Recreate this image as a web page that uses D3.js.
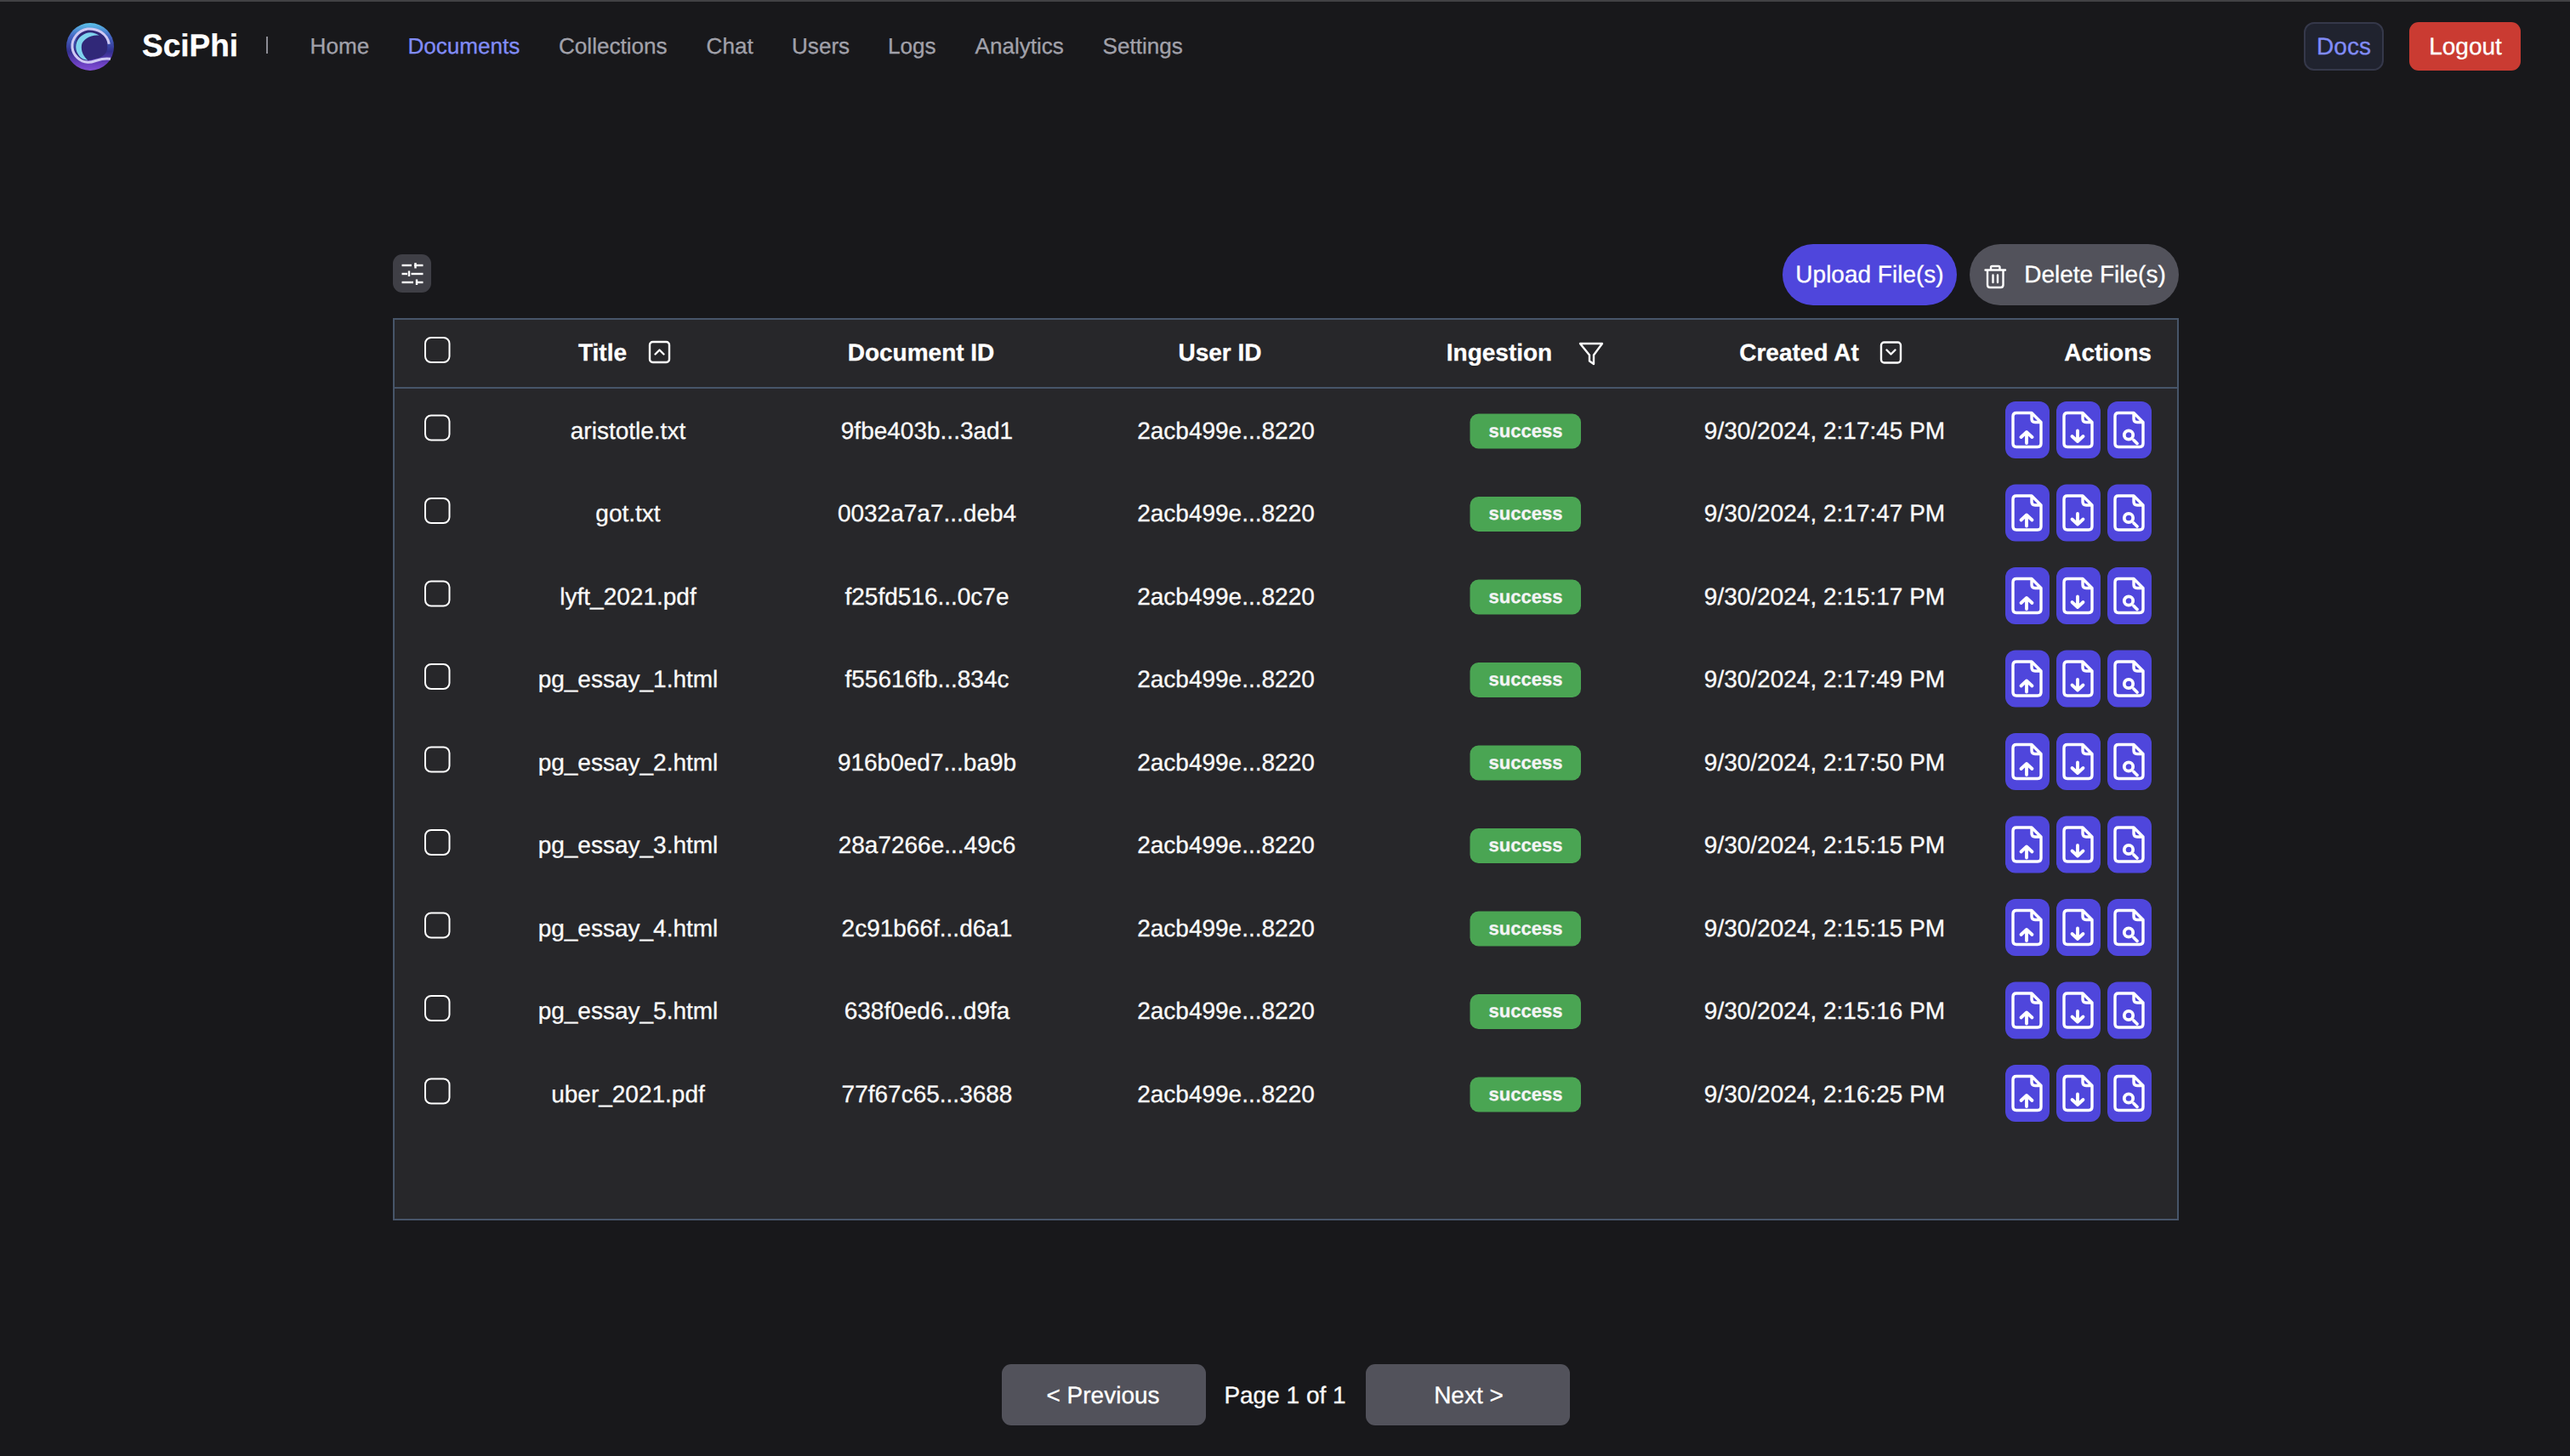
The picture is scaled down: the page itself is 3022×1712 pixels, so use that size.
<!DOCTYPE html>
<html>
<head>
<meta charset="utf-8">
<title>SciPhi Documents</title>
<script src="https://cdn.jsdelivr.net/npm/d3@7/dist/d3.min.js"></script>
<style>
html,body{margin:0;padding:0;background:#18181b;overflow:hidden}
svg{display:block}
text{font-family:"Liberation Sans",Arial,Helvetica,sans-serif;text-rendering:geometricPrecision;stroke:currentColor;stroke-width:0.3px}
</style>
</head>
<body>
<div id="chart"></div>
<script>
const navItems = ["Home","Documents","Collections","Chat","Users","Logs","Analytics","Settings"];
const navStarts = [364.6,479.4,657,830.6,931,1044,1146.5,1296.6];
const columns = ["Title","Document ID","User ID","Ingestion","Created At","Actions"];
const titles = ["aristotle.txt","got.txt","lyft_2021.pdf","pg_essay_1.html","pg_essay_2.html","pg_essay_3.html","pg_essay_4.html","pg_essay_5.html","uber_2021.pdf"];
const documentIds = ["9fbe403b...3ad1","0032a7a7...deb4","f25fd516...0c7e","f55616fb...834c","916b0ed7...ba9b","28a7266e...49c6","2c91b66f...d6a1","638f0ed6...d9fa","77f67c65...3688"];
const userIds = ["2acb499e...8220","2acb499e...8220","2acb499e...8220","2acb499e...8220","2acb499e...8220","2acb499e...8220","2acb499e...8220","2acb499e...8220","2acb499e...8220"];
const statuses = ["success","success","success","success","success","success","success","success","success"];
const createdAt = ["9/30/2024, 2:17:45 PM","9/30/2024, 2:17:47 PM","9/30/2024, 2:15:17 PM","9/30/2024, 2:17:49 PM","9/30/2024, 2:17:50 PM","9/30/2024, 2:15:15 PM","9/30/2024, 2:15:15 PM","9/30/2024, 2:15:16 PM","9/30/2024, 2:16:25 PM"];

const W = 3022, H = 1712;
const C = {bg:"#18181b", panel:"#27272a", border:"#475569", nav:"#a1a1aa", accent:"#818cf8", indigo:"#4f46dc", gray:"#52525b", green:"#4aa553", red:"#ca3b32"};

const svg = d3.select("#chart").append("svg").attr("width",W).attr("height",H).attr("viewBox",`0 0 ${W} ${H}`);
svg.append("rect").attr("width",W).attr("height",H).attr("fill",C.bg);
svg.append("rect").attr("width",W).attr("height",2).attr("fill","#414144");

function label(parent,x,y,str,o={}){
  return parent.append("text").attr("x",x).attr("y",y).text(str)
    .attr("font-size",o.size||28).attr("font-weight",o.weight||400)
    .style("color",o.fill||"#fafafa").attr("fill",o.fill||"#fafafa").attr("text-anchor",o.anchor||"middle");
}
function box(parent,x0,y0,x1,y1,r,fill,stroke,sw){
  return parent.append("rect").attr("x",x0).attr("y",y0).attr("width",x1-x0).attr("height",y1-y0)
    .attr("rx",r).attr("fill",fill).attr("stroke",stroke||"none").attr("stroke-width",sw||0);
}

/* ---------- logo ---------- */
const defs = svg.append("defs");
const lg = defs.append("linearGradient").attr("id","logoG").attr("x1",0).attr("y1",0).attr("x2",0).attr("y2",1);
[[0,"#5cc3ea"],[0.28,"#4566c4"],[0.6,"#33308f"],[0.85,"#6a3fc0"],[1,"#8350d6"]].forEach(s=>lg.append("stop").attr("offset",s[0]).attr("stop-color",s[1]));
const logo = svg.append("g").attr("transform","translate(106,55)");
logo.append("circle").attr("r",28).attr("fill","url(#logoG)");
logo.append("path").attr("d","M-17,-4 A18,17 0 0 1 20,-3 C22,8 14,13 6,14 C0,16 -6,17 -10,15 C-16,10 -18,3 -17,-4 Z").attr("fill","#302878");
logo.append("path").attr("d","M10.7,-13.3 C4,-18 -4,-18 -10,-13 C-17,-8 -19,2 -14,9 C-11,14 -7,15.5 -2.7,15.7 C-8,11 -11,5 -10,-2 C-9,-9 2,-15 10.7,-13.3 Z").attr("fill","#7fd3ee");
logo.append("path").attr("d","M22.3,-3.3 C20,-16 8,-22 -3,-21 C-14,-19 -22,-10 -21,1 C-20,10 -12,18 -2.7,18.3 C6,18.5 12,12 24,14.3").attr("fill","none").attr("stroke","#cfc9f3").attr("stroke-width",3);

/* ---------- top nav ---------- */
label(svg,167,66,"SciPhi",{size:37,weight:700,fill:"#ffffff",anchor:"start"});
svg.append("line").attr("x1",314).attr("x2",314).attr("y1",43).attr("y2",63).attr("stroke","#8c8c94").attr("stroke-width",2);
svg.append("g").selectAll("text").data(navItems).join("text")
  .attr("x",(d,i)=>navStarts[i]).attr("y",62.5).text(d=>d)
  .attr("font-size",26.1).attr("fill",d=>d==="Documents"?C.accent:C.nav).style("color",d=>d==="Documents"?C.accent:C.nav);
box(svg,2710,27,2802,82,11,"#20232f","#35384a",2);
label(svg,2756,64,"Docs",{fill:C.accent});
box(svg,2833,26,2964,83,11,C.red);
label(svg,2899,64,"Logout",{fill:"#ffffff"});

/* ---------- toolbar ---------- */
box(svg,462,299,507,344,11,"#3f3f46");
const sl = svg.append("g").attr("stroke","#ffffff").attr("stroke-width",2.4).attr("fill","none");
[["M472.5,312H484","M487,312H497.5","M488.5,309V315.5"],
 ["M472.5,322H479","M483.5,322H497.5","M481,318.5V325"],
 ["M472.5,332H486","M489.5,332H497.5","M490,328.5V335"]].forEach(r=>r.forEach(d=>sl.append("path").attr("d",d)));

box(svg,2096,287,2301,359,36,C.indigo);
label(svg,2198.5,332,"Upload File(s)",{fill:"#ffffff"});
box(svg,2316,287,2562,359,36,C.gray);
const tr = svg.append("g").attr("fill","none").attr("stroke","#ffffff").attr("stroke-width",2.4).attr("stroke-linecap","round");
tr.append("path").attr("d","M2334.5,317.5H2358 M2341,317 V314.5 Q2341,313 2342.5,313 H2350 Q2351.5,313 2351.5,314.5 V317 M2337,318 V335 Q2337,338 2340,338 H2352.5 Q2355.5,338 2355.5,335 V318 M2343.5,323.5 V332 M2349,323.5 V332");
label(svg,2463.5,332,"Delete File(s)",{fill:"#ffffff"});

/* ---------- table ---------- */
const tableTop = 375, tableBottom = 1434, tableLeft = 463, tableRight = 2561, headerLine = 456;
box(svg,tableLeft,tableTop,tableRight,tableBottom,0,C.panel,C.border,2);
svg.append("line").attr("x1",tableLeft).attr("x2",tableRight).attr("y1",headerLine).attr("y2",headerLine).attr("stroke",C.border).attr("stroke-width",2);

const rowY = d3.scalePoint().domain(titles).range([505.5,1285.5]);
const colX = d3.scaleOrdinal().domain(columns).range([738.5,1090,1441.5,1794,2145.5,2444]);
const headerX = d3.scaleOrdinal().domain(columns).range([708.5,1083,1434.5,1763,2115.5,2478.5]);

svg.append("g").selectAll("text").data(columns).join("text")
  .attr("x",d=>headerX(d)).attr("y",424).attr("text-anchor","middle")
  .attr("font-size",28).attr("font-weight",700).attr("fill","#ffffff").style("color","#ffffff").text(d=>d);

function checkbox(y){ box(svg,500,y-14.5,528.5,y+14.5,7,"none","#ffffff",2); }
checkbox(411.5);
titles.forEach(t=>checkbox(rowY(t)-2.5));

const hi = svg.append("g").attr("fill","none").attr("stroke","#ffffff").attr("stroke-width",2.4).attr("stroke-linejoin","round").attr("stroke-linecap","round");
hi.append("rect").attr("x",764).attr("y",402).attr("width",23).attr("height",24).attr("rx",3.5);
hi.append("path").attr("d","M770.5,416.5 L775.5,411.5 L780.5,416.5");
hi.append("path").attr("d","M1858,404 H1884 L1874,417.5 V428 L1869,424.5 V417.5 Z");
hi.append("rect").attr("x",2212).attr("y",402.5).attr("width",23).attr("height",24).attr("rx",3.5);
hi.append("path").attr("d","M2218.5,411.5 L2223.5,416.5 L2228.5,411.5");

const textColor = "#fafafa";
const rows = svg.append("g").selectAll("g").data(titles).join("g").attr("class","row").style("color",textColor);
rows.append("text").attr("x",colX("Title")).attr("y",d=>rowY(d)+10).attr("text-anchor","middle").attr("font-size",28).attr("fill",textColor).text(d=>d);
rows.append("text").attr("x",colX("Document ID")).attr("y",d=>rowY(d)+10).attr("text-anchor","middle").attr("font-size",28).attr("fill",textColor).text((d,i)=>documentIds[i]);
rows.append("text").attr("x",colX("User ID")).attr("y",d=>rowY(d)+10).attr("text-anchor","middle").attr("font-size",28).attr("fill",textColor).text((d,i)=>userIds[i]);
rows.append("rect").attr("x",1728.5).attr("y",d=>rowY(d)-19).attr("width",130.5).attr("height",41).attr("rx",10).attr("fill",C.green);
rows.append("text").attr("x",colX("Ingestion")).attr("y",d=>rowY(d)+8).attr("text-anchor","middle").attr("font-size",22).attr("font-weight",700).attr("fill","#f4f4f5").style("color","#f4f4f5").text((d,i)=>statuses[i]);
rows.append("text").attr("x",colX("Created At")).attr("y",d=>rowY(d)+10).attr("text-anchor","middle").attr("font-size",28).attr("fill",textColor).text((d,i)=>createdAt[i]);

const filePath = "M-13,-20 H5 L16,-9 V16 Q16,20 12,20 H-13 Q-17,20 -17,16 V-16 Q-17,-20 -13,-20 Z M5,-20 V-13 Q5,-9 9,-9 H16";
const actionIcons = [
  {x:2384, glyph:"M-1,15.5 V3 M-7.5,8.5 L-1,2.5 L5.5,8.5"},
  {x:2444, glyph:"M-1,1 V13 M-7.5,7.5 L-1,13.5 L5.5,7.5"},
  {x:2504, glyph:"M5,12 L9,16", circle:[-1,6,5.2]}
];
rows.each(function(t){
  const g = d3.select(this), y = rowY(t);
  actionIcons.forEach(a=>{
    const b = g.append("g").attr("transform",`translate(${a.x},${y})`);
    b.append("rect").attr("x",-26).attr("y",-33.5).attr("width",52).attr("height",67).attr("rx",12).attr("fill",C.indigo);
    const s = b.append("g").attr("fill","none").attr("stroke","#ffffff").attr("stroke-width",3.4).attr("stroke-linejoin","round").attr("stroke-linecap","round");
    s.append("path").attr("d",filePath);
    s.append("path").attr("d",a.glyph).attr("stroke-width",3.8);
    if(a.circle) s.append("circle").attr("cx",a.circle[0]).attr("cy",a.circle[1]).attr("r",a.circle[2]).attr("stroke-width",3.8);
  });
});

/* ---------- pagination ---------- */
box(svg,1178,1604,1418,1676,11,C.gray);
label(svg,1297,1649.5,"< Previous",{fill:"#ffffff"});
label(svg,1511,1649.5,"Page 1 of 1",{fill:"#fafafa"});
box(svg,1606,1604,1846,1676,11,C.gray);
label(svg,1727,1649.5,"Next >",{fill:"#ffffff"});
</script>
</body>
</html>
